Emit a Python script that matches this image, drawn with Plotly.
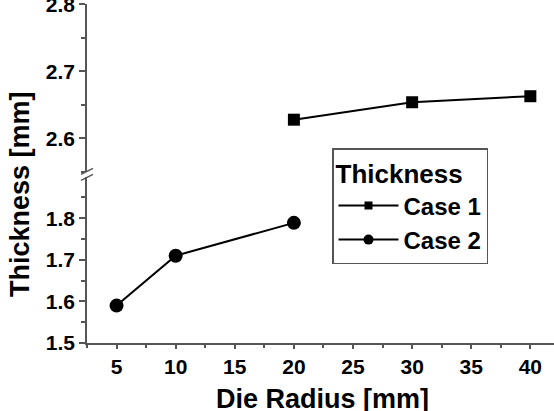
import plotly.graph_objects as go

# ---- data ----
radius_case1 = [20, 30, 40]
thickness_case1 = [2.628, 2.654, 2.663]
radius_case2 = [5, 10, 20]
thickness_case2 = [1.590, 1.710, 1.789]

x_ticks = [5, 10, 15, 20, 25, 30, 35, 40]
x_minor = [2.5, 7.5, 12.5, 17.5, 22.5, 27.5, 32.5, 37.5]
lower_ticks = [1.5, 1.6, 1.7, 1.8]
lower_minor = [1.55, 1.65, 1.75, 1.85]
upper_ticks = [2.6, 2.7, 2.8]
upper_minor = [2.55, 2.65, 2.75]

W, H = 554, 411
ML, MR, MT, MB = 87, 0, 4, 68
PH = H - MT - MB
PW = W - ML - MR
AX = "#555555"
FONT = "Liberation Sans, Arial, sans-serif"

fig = go.Figure()
fig.add_trace(go.Scatter(
    x=radius_case1, y=thickness_case1, yaxis="y2", name="Case 1",
    mode="lines+markers", showlegend=False,
    line=dict(color="black", width=2),
    marker=dict(symbol="square", size=12, color="black"),
))
fig.add_trace(go.Scatter(
    x=radius_case2, y=thickness_case2, yaxis="y", name="Case 2",
    mode="lines+markers", showlegend=False,
    line=dict(color="black", width=2),
    marker=dict(symbol="circle", size=14, color="black"),
))
# legend entries (smaller symbols, as in the reference legend)
fig.add_trace(go.Scatter(
    x=[None], y=[None], yaxis="y2", name="Case 1", mode="lines+markers",
    line=dict(color="black", width=2),
    marker=dict(symbol="square", size=8, color="black"),
))
fig.add_trace(go.Scatter(
    x=[None], y=[None], yaxis="y", name="Case 2", mode="lines+markers",
    line=dict(color="black", width=2),
    marker=dict(symbol="circle", size=10, color="black"),
))

lower_top = (H - MB - 176.7) / PH
upper_bot = (H - MB - 172.0) / PH

axis_common = dict(
    showline=True, linecolor=AX, linewidth=1.5,
    ticks="outside", tickwidth=1.5, tickcolor=AX,
    showgrid=False, zeroline=False, ticklabeloverflow="allow",
    automargin=False,
    tickfont=dict(family=FONT, size=21, color="black", weight="bold"),
)

fig.update_layout(
    width=W, height=H,
    margin=dict(l=ML, r=MR, t=MT, b=MB),
    paper_bgcolor="white", plot_bgcolor="white",
    font=dict(family=FONT, color="black", weight="bold"),
    xaxis=dict(
        range=[2.5, 42.0], tickvals=x_ticks, anchor="y", ticklen=4,
        minor=dict(tickvals=x_minor, ticks="outside", ticklen=3, tickcolor=AX, tickwidth=1.5),
        **axis_common,
    ),
    yaxis=dict(
        domain=[0, lower_top], range=[1.5, 1.9], tickvals=lower_ticks,
        ticktext=[f"{v:.1f}" for v in lower_ticks], anchor="x", ticklen=6,
        minor=dict(tickvals=lower_minor, ticks="outside", ticklen=4, tickcolor=AX, tickwidth=1.5),
        **axis_common,
    ),
    yaxis2=dict(
        domain=[upper_bot, 1], range=[2.55, 2.8005], tickvals=upper_ticks,
        ticktext=[f"{v:.1f}" for v in upper_ticks], anchor="x", ticklen=6,
        minor=dict(tickvals=upper_minor, ticks="outside", ticklen=4, tickcolor=AX, tickwidth=1.5),
        **axis_common,
    ),
    legend=dict(
        x=(332 - ML) / PW, y=(H - MB - 148) / PH,
        xanchor="left", yanchor="top",
        bordercolor=AX, borderwidth=1.5, bgcolor="white",
        font=dict(family=FONT, size=24, color="black", weight="bold"),
        title=dict(text="Thickness", font=dict(family=FONT, size=26, color="black", weight="bold")),
        itemwidth=60, tracegroupgap=0,
    ),
    showlegend=True,
)

# x axis title
fig.add_annotation(
    text="Die Radius [mm]",
    xref="paper", yref="paper",
    x=(322 - ML) / PW, y=(H - MB - 399) / PH,
    xanchor="center", yanchor="middle", showarrow=False,
    font=dict(family=FONT, size=27, color="black", weight="bold"),
)

# y axis title spanning the broken axis
fig.add_annotation(
    text="Thickness [mm]", textangle=-90,
    xref="paper", yref="paper",
    x=(20 - ML) / PW, y=(H - MB - 194) / PH,
    xanchor="center", yanchor="middle", showarrow=False,
    font=dict(family=FONT, size=27, color="black", weight="bold"),
)

# axis break marks
yb = (H - MB - 174.3) / PH
for off in (3, -3):
    fig.add_shape(
        type="line", xref="paper", yref="paper",
        xsizemode="pixel", ysizemode="pixel",
        xanchor=0, yanchor=yb,
        x0=-6, x1=6, y0=off - 3, y1=off + 3,
        line=dict(color=AX, width=1.5),
    )

fig.write_html("out.html")
